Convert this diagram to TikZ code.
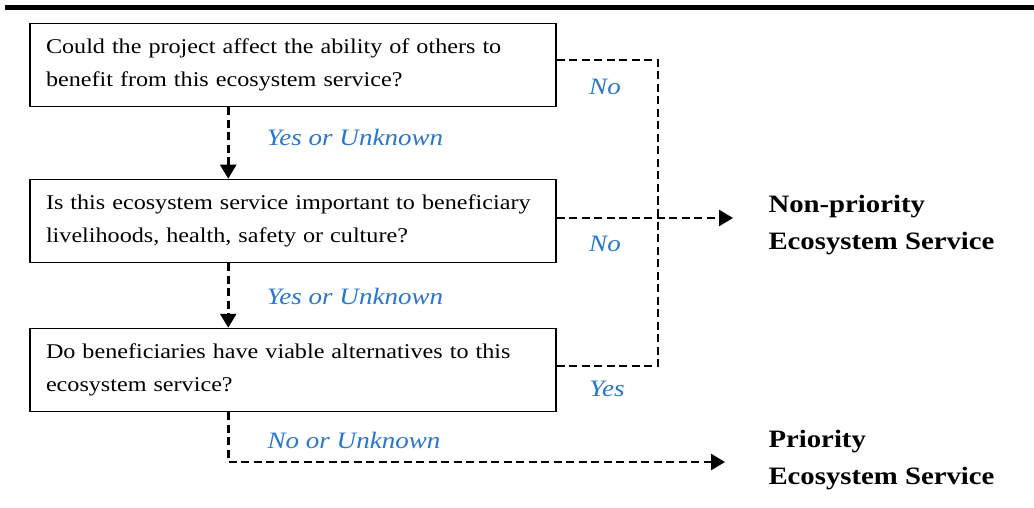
\documentclass[tikz,border=0pt]{standalone}
\usepackage{fontspec}
\setmainfont{Liberation Serif}[FakeStretch=1.15]
\usetikzlibrary{arrows.meta}
\definecolor{lblue}{RGB}{40,118,205}
\tikzset{
  qbox/.style={draw, line width=1.5pt, minimum width=526pt, minimum height=83pt,
    text width=494pt, inner xsep=16pt, align=left, font=\fontsize{21}{33}\selectfont},
  dl/.style={line width=2.5pt, dash pattern=on 8pt off 4.5pt},
  arr/.style={dl, -{Triangle[width=16pt,length=14pt]}},
  lbl/.style={text=lblue, font=\fontsize{23.5}{24}\selectfont\itshape},
  res/.style={align=left, anchor=west, font=\fontsize{25}{37}\selectfont\bfseries}
}
\begin{document}
\begin{tikzpicture}[x=1pt,y=-1pt]
\useasboundingbox (0,0) rectangle (1034,508);
\fill (5,5) rectangle (1034,10);
\node[qbox] (q1) at (293,65) {Could the project affect the ability of others to\\benefit from this ecosystem service?};
\node[qbox] (q2) at (293,221) {Is this ecosystem service important to beneficiary\\livelihoods, health, safety or culture?};
\node[qbox] (q3) at (293,370) {Do beneficiaries have viable alternatives to this\\ecosystem service?};
\node[res] (np) at (765,225) {Non-priority\\Ecosystem Service};
\node[res] (pr) at (765,460) {Priority\\Ecosystem Service};
\coordinate (a1) at (733,218);
\coordinate (a2) at (725,462);
\draw[dl] ([yshift=5pt]q1.east) -- ++(101,0) |- ([yshift=4pt]q3.east);
\draw[arr] ([yshift=3pt]q2.east) -- (a1);
\draw[arr] ([xshift=199pt]q1.south west) -- ([xshift=199pt]q2.north west);
\draw[arr] ([xshift=199pt]q2.south west) -- ([xshift=199pt]q3.north west);
\draw[arr] ([xshift=199pt]q3.south west) |- (a2);
\node[lbl] (l1) at (355,137) {Yes or Unknown};
\node[lbl] (l2) at (355,296) {Yes or Unknown};
\node[lbl] (l3) at (354,440) {No or Unknown};
\node[lbl] (n1) at (605,87) {No};
\node[lbl] (n2) at (605,244) {No};
\node[lbl] (y1) at (607,389) {Yes};
\end{tikzpicture}
\end{document}
